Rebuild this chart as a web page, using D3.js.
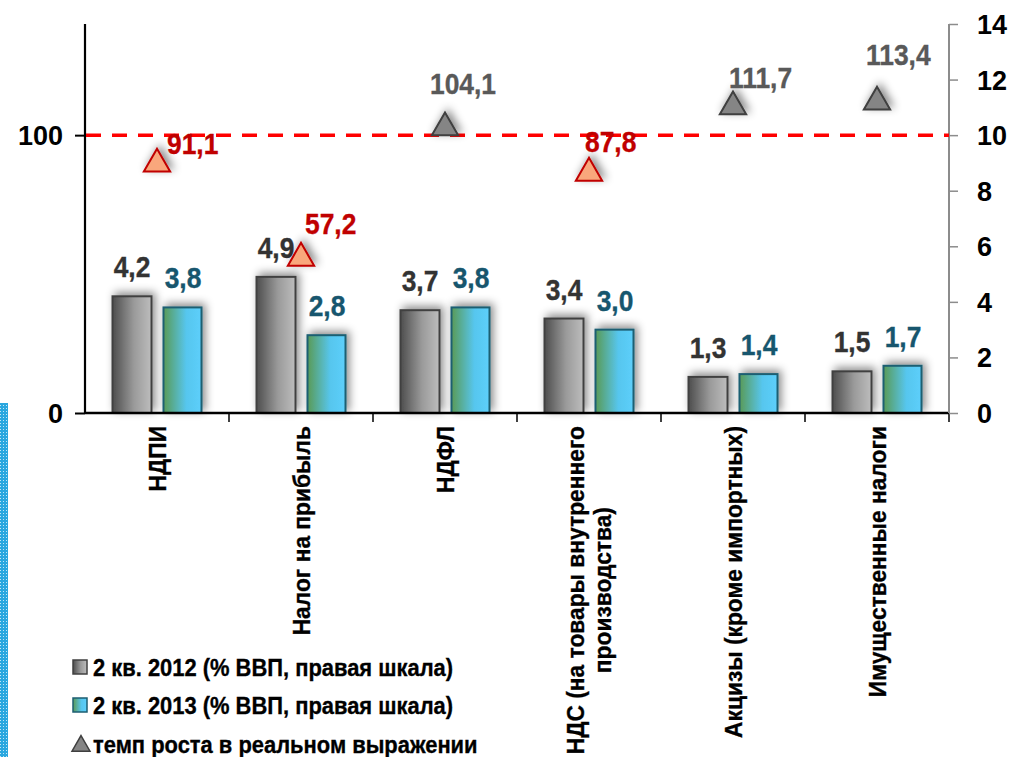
<!DOCTYPE html>
<html><head><meta charset="utf-8">
<script src="https://cdn.jsdelivr.net/npm/d3@7"></script>
<style>
html,body{margin:0;padding:0;background:#fff;}
svg text{font-family:"Liberation Sans Narrow","Arial Narrow","Liberation Sans",Arial,sans-serif;font-weight:bold;}
</style></head>
<body>
<svg id="chart" width="1016" height="757"></svg>
<script>
// ---- data ----
const categories = ["НДПИ","Налог на прибыль","НДФЛ","НДС (на товары внутреннего производства)","Акцизы (кроме импортных)","Имущественные налоги"];
const categoryLines = [["НДПИ"],["Налог на прибыль"],["НДФЛ"],["НДС (на товары внутреннего","производства)"],["Акцизы (кроме импортных)"],["Имущественные налоги"]];
const q2012 = [4.2,4.9,3.7,3.4,1.3,1.5];
const q2013 = [3.8,2.8,3.8,3.0,1.4,1.7];
const growth = [91.1,57.2,104.1,87.8,111.7,113.4];
const leftTicks = [0,100];
const rightTicks = [0,2,4,6,8,10,12,14];
const legendLabels = ["2 кв. 2012 (% ВВП, правая шкала)","2 кв. 2013 (% ВВП, правая шкала)","темп роста в реальном выражении"];
// layout for growth labels (dx, dy from marker centre), as placed in reference
const growthLabelOffsets = [[10,-6],[4,-20],[-15,-30],[-4,-17],[-4,-15],[-11,-33]];

const fmt = v => d3.format(".1f")(v).replace(".",",");
// narrow-looking text: horizontal compression (no condensed font installed)
const NARROW = 0.88;

const svg = d3.select("#chart");
const W=1016,H=757;
const m = {left:85,right:949,top:24,bottom:413};

const x = d3.scaleBand().domain(categories).range([m.left,m.right]);
const yL = d3.scaleLinear().domain([0,140]).range([m.bottom,m.top]);
const yR = d3.scaleLinear().domain([0,14]).range([m.bottom,m.top]);
const barW = 39, gap = 12;
const xs = d3.scaleOrdinal().domain(["2012","2013"]).range([-barW-gap/2+0.5, gap/2+0.5]);

function ntext(parent, px, py, str, opts){
  const t = parent.append("text")
    .attr("transform",`translate(${px},${py})${opts.rotate?` rotate(${opts.rotate})`:""} scale(${opts.sx||NARROW},1)`)
    .attr("text-anchor",opts.anchor||"start")
    .attr("font-size",opts.size).attr("fill",opts.fill||"#000")
    .attr("stroke",opts.fill||"#000").attr("stroke-width",0.35);
  if(opts.dy) t.attr("dy",opts.dy);
  if(str!==null) t.text(str);
  return t;
}

const defs = svg.append("defs");
const gGray = defs.append("linearGradient").attr("id","gGray");
gGray.append("stop").attr("offset","0%").attr("stop-color","#4d4d4d");
gGray.append("stop").attr("offset","55%").attr("stop-color","#9a9a9a");
gGray.append("stop").attr("offset","100%").attr("stop-color","#bdbdbd");
const gTeal = defs.append("linearGradient").attr("id","gTeal");
gTeal.append("stop").attr("offset","0%").attr("stop-color","#5a9a56");
gTeal.append("stop").attr("offset","60%").attr("stop-color","#57c6ee");
gTeal.append("stop").attr("offset","100%").attr("stop-color","#5ccffb");
const f = defs.append("filter").attr("id","shadow").attr("x","-50%").attr("y","-50%").attr("width","200%").attr("height","200%");
f.append("feDropShadow").attr("dx",3).attr("dy",-3).attr("stdDeviation",4).attr("flood-color","#000").attr("flood-opacity",0.45);
const pat = defs.append("pattern").attr("id","dots").attr("patternUnits","userSpaceOnUse").attr("width",3).attr("height",3);
pat.append("rect").attr("width",3).attr("height",3).attr("fill","#2aa7df");
pat.append("rect").attr("width",1).attr("height",1).attr("fill","#bfe6f7");

// left dotted strip
svg.append("rect").attr("x",0).attr("y",403).attr("width",8).attr("height",H-403).attr("fill","url(#dots)");

// bars
const bars = svg.append("g");
categories.forEach((c,i)=>{
  bars.append("rect").attr("x",x(c)+x.bandwidth()/2+xs("2012")).attr("y",yR(q2012[i]))
    .attr("width",barW).attr("height",yR(0)-yR(q2012[i]))
    .attr("fill","url(#gGray)").attr("stroke","#404040").attr("stroke-width",2).attr("filter","url(#shadow)");
  bars.append("rect").attr("x",x(c)+x.bandwidth()/2+xs("2013")).attr("y",yR(q2013[i]))
    .attr("width",barW-1).attr("height",yR(0)-yR(q2013[i]))
    .attr("fill","url(#gTeal)").attr("stroke","#1d5e72").attr("stroke-width",2).attr("filter","url(#shadow)");
});

// bottom axis line
svg.append("line").attr("x1",m.left).attr("x2",m.right).attr("y1",yL(0)).attr("y2",yL(0)).attr("stroke","#000").attr("stroke-width",2.5);
// category separator ticks
categories.forEach((c,i)=>{
  svg.append("line").attr("x1",x(c)+x.bandwidth()).attr("x2",x(c)+x.bandwidth()).attr("y1",yL(0)).attr("y2",yL(0)+9).attr("stroke","#000").attr("stroke-width",1.5);
});
// left axis
const la = svg.append("g").attr("transform",`translate(${m.left},0)`)
  .call(d3.axisLeft(yL).tickValues(leftTicks).tickSize(10).tickPadding(12).tickFormat(d3.format("d")));
la.select(".domain").attr("stroke","#000").attr("stroke-width",2.2).attr("d",`M0,${m.top}V${m.bottom}`);
la.selectAll(".tick line").attr("stroke","#000").attr("stroke-width",2);
la.selectAll(".tick text").attr("font-size",27).attr("fill","#000").attr("dy","0.35em");
// right axis
const ra = svg.append("g").attr("transform",`translate(${m.right},0)`)
  .call(d3.axisRight(yR).tickValues(rightTicks).tickSize(9).tickPadding(19).tickFormat(d3.format("d")));
ra.select(".domain").attr("stroke","#8c8c8c").attr("stroke-width",2).attr("d",`M0,${m.top}V${m.bottom}`);
ra.selectAll(".tick line").attr("stroke","#8c8c8c").attr("stroke-width",1.5);
ra.selectAll(".tick text").attr("font-size",27).attr("fill","#000").attr("dy","0.35em");

// dashed 100 line
svg.append("line").attr("x1",m.left+1).attr("x2",m.right).attr("y1",yL(100)).attr("y2",yL(100))
  .attr("stroke","#ff0000").attr("stroke-width",3.5).attr("stroke-dasharray","15,11");

// value labels
categories.forEach((c,i)=>{
  const cx = x(c)+x.bandwidth()/2;
  ntext(svg, cx+xs("2012")+barW/2, yR(q2012[i])-19, fmt(q2012[i]), {anchor:"middle",size:30,fill:"#333333",sx:0.88});
  ntext(svg, cx+xs("2013")+barW/2, yR(q2013[i])-19, fmt(q2013[i]), {anchor:"middle",size:30,fill:"#17566e",sx:0.88});
});

// triangles
const tri = d3.symbol().type(d3.symbolTriangle).size(300);
categories.forEach((c,i)=>{
  const cx = x(c)+x.bandwidth()/2, cy = yL(growth[i]);
  const low = growth[i] < 100;
  svg.append("path").attr("d",tri()).attr("transform",`translate(${cx},${cy+4})`)
    .attr("fill", low ? "#f9a77b" : "#858585").attr("stroke", low ? "#c00000" : "#3f3f3f").attr("stroke-width",2)
    .attr("filter","url(#shadow)");
  const off = growthLabelOffsets[i];
  ntext(svg, cx+off[0], cy+off[1], fmt(growth[i]), {anchor:"start",size:30,fill: low ? "#c00000" : "#595959",sx:0.88});
});

// category labels (rotated)
categories.forEach((c,i)=>{
  const cx = x(c)+x.bandwidth()/2;
  const lines = categoryLines[i];
  const sx = 0.93;
  if(lines.length===1){
    ntext(svg, cx, yL(0)+13, lines[0], {anchor:"end",size:24.5,rotate:-90,sx:sx,dy:"0.35em"});
  } else {
    const t = ntext(svg, cx, yL(0)+13, null, {anchor:"middle",size:24.5,rotate:-90,sx:sx});
    const lh = 27;
    lines.forEach((ln,j)=>{
      t.append("tspan").attr("x",0).attr("y",(j-(lines.length-1)/2)*lh).attr("dy","0.35em").text(ln);
    });
    const w = d3.max(t.selectAll("tspan").nodes(), n=>n.getComputedTextLength());
    t.selectAll("tspan").attr("x",-w/2);
  }
});

// legend
const lg = svg.append("g");
const ly = [667,705,744];
lg.append("rect").attr("x",73).attr("y",ly[0]-7).attr("width",14).attr("height",14).attr("fill","url(#gGray)").attr("stroke","#404040").attr("stroke-width",1.5);
lg.append("rect").attr("x",73).attr("y",ly[1]-7).attr("width",14).attr("height",14).attr("fill","url(#gTeal)").attr("stroke","#1d5e72").attr("stroke-width",1.5);
lg.append("path").attr("d",d3.symbol().type(d3.symbolTriangle).size(140)()).attr("transform",`translate(81,${ly[2]+2})`)
  .attr("fill","#858585").attr("stroke","#3f3f3f").attr("stroke-width",1.5);
legendLabels.forEach((l,i)=>{
  ntext(lg, 93, ly[i], l, {anchor:"start",size:24.5,sx:0.895,dy:"0.36em"});
});
</script>
</body></html>
